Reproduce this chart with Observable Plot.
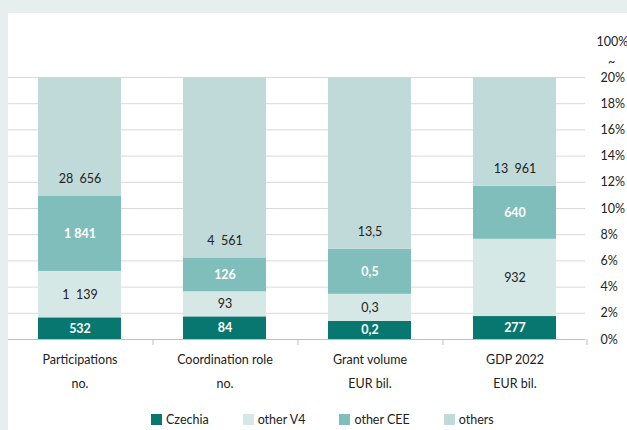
<!DOCTYPE html>
<html><head><meta charset="utf-8">
<script src="https://cdn.jsdelivr.net/npm/d3@7"></script>
<script src="https://cdn.jsdelivr.net/npm/@observablehq/plot@0.6"></script>
<style>
html,body{margin:0;padding:0;background:#e6efed;width:627px;height:430px;overflow:hidden;font-family:Lato,"Noto Sans",sans-serif;}
#panel{position:absolute;left:8px;top:13px;width:619px;height:417px;background:#fff;overflow:hidden;}
#chart svg{overflow:visible;}
#legend{position:absolute;left:143px;top:390px;}
.lg-swatches{font-family:Lato,"Noto Sans",sans-serif;font-size:12.5px;color:#222;}
.lg-swatch{margin-right:34px !important;}
.lg-swatch svg{margin-right:4px !important;}
</style></head>
<body><div id="panel"><div id="chart"></div><div id="legend"></div></div>
<script>
const categories = ["Participations", "Coordination role", "Grant volume", "GDP 2022"];
const units = ["no.", "no.", "EUR bil.", "EUR bil."];
const groups = ["Czechia", "other V4", "other CEE", "others"];
const colors = ["#07776f", "#d5e8e6", "#80bebb", "#bfdad9"];
const czechia = [532, 84, 0.2, 277];
const otherV4 = [1139, 93, 0.3, 932];
const otherCEE = [1841, 126, 0.5, 640];
const others = [28656, 4561, 13.5, 13961];
const labCzechia = ["532", "84", "0,2", "277"];
const labV4 = ["1  139", "93", "0,3", "932"];
const labCEE = ["1 841", "126", "0,5", "640"];
const labOthers = ["28  656", "4  561", "13,5", "13  961"];
const yTicks = [0, 0.02, 0.04, 0.06, 0.08, 0.1, 0.12, 0.14, 0.16, 0.18, 0.2];

const series = [czechia, otherV4, otherCEE, others];
const labels = [labCzechia, labV4, labCEE, labOthers];
const rows = [];
categories.forEach((c, i) => {
  const total = series.reduce((s, a) => s + a[i], 0);
  let cum = 0;
  groups.forEach((g, k) => {
    const share = series[k][i] / total;
    rows.push({cat: c, unit: units[i], group: g, share, y0: cum, y1: cum + share, label: labels[k][i], k});
    cum += share;
  });
});
const boldRows = rows.filter(d => d.k === 0 || d.k === 2);
const v4Rows = rows.filter(d => d.k === 1);
const topRows = rows.filter(d => d.k === 3);
const catRows = categories.map((c, i) => ({cat: c, unit: units[i]}));
const font = "Lato, 'Noto Sans', sans-serif";
const fs = 12.5;

const chart = Plot.plot({
  width: 619, height: 386,
  marginTop: 64, marginBottom: 60, marginLeft: 0, marginRight: 42,
  style: {fontFamily: font, fontSize: fs + "px", color: "#222", background: "transparent"},
  x: {domain: categories, paddingInner: 0.43, paddingOuter: 0.2, axis: null},
  y: {type: "linear", domain: [0, 0.2], axis: null},
  color: {domain: groups, range: colors},
  marks: [
    Plot.ruleY(yTicks.slice(1), {stroke: "#d9d9d9", strokeWidth: 1}),
    Plot.barY(rows, {x: "cat", y1: "y0", y2: "y1", fill: "group", clip: true}),
    Plot.ruleY([0], {stroke: "#bfbfbf", strokeWidth: 1}),
    Plot.ruleX(categories.slice(1), {x: d => d, dx: -72, y1: 0, y2: 0, insetBottom: -6, stroke: "#bfbfbf"}),
    Plot.ruleX([categories[3]], {x: d => d, dx: 72, y1: 0, y2: 0, insetBottom: -6, stroke: "#bfbfbf"}),
    Plot.text(boldRows, {x: "cat", y: d => (d.y0 + d.y1) / 2, text: "label", fill: "#fff", fontWeight: "bold", fontSize: fs}),
    Plot.text(v4Rows, {x: "cat", y: d => (d.y0 + d.y1) / 2, text: "label", fill: "#222", fontSize: fs}),
    Plot.text(topRows, {x: "cat", y: "y0", dy: -17, text: "label", fill: "#222", fontSize: fs}),
    Plot.text(yTicks, {frameAnchor: "right", dx: 15, y: d => d, text: d => Math.round(d * 100) + "%", textAnchor: "start", fill: "#222", fontSize: fs}),
    Plot.text(["100%"], {frameAnchor: "top-right", dx: 11, dy: -40, text: d => d, textAnchor: "start", fill: "#222", fontSize: fs}),
    Plot.text(["~"], {frameAnchor: "top-right", dx: 26, dy: -20, text: d => d, textAnchor: "middle", fill: "#222", fontSize: fs}),
    Plot.text(catRows, {x: "cat", frameAnchor: "bottom", dy: 24, text: "cat", fill: "#222", fontSize: fs}),
    Plot.text(catRows, {x: "cat", frameAnchor: "bottom", dy: 48, text: "unit", fill: "#222", fontSize: fs})
  ]
});
document.getElementById("chart").appendChild(chart);

const leg = Plot.legend({color: {type: "ordinal", domain: groups, range: colors}, legend: "swatches", swatchSize: 11, className: "lg"});
document.getElementById("legend").appendChild(leg);
</script></body></html>
